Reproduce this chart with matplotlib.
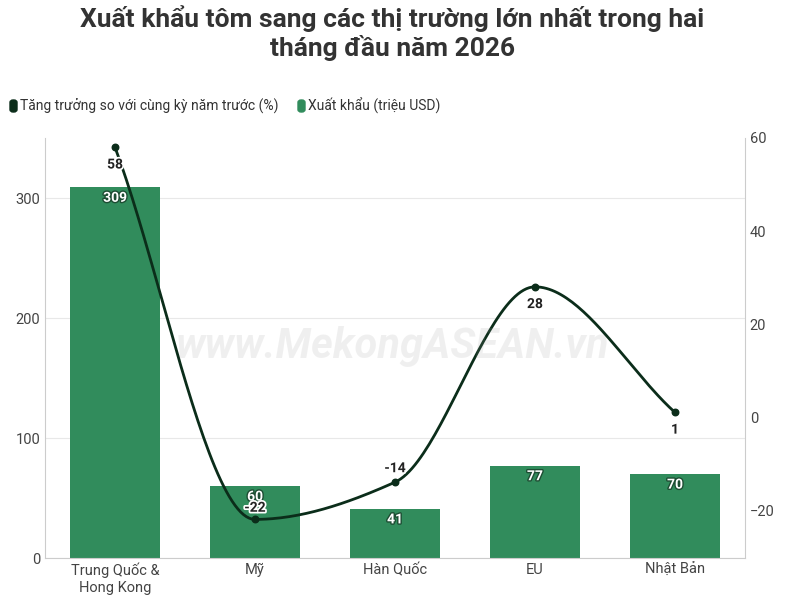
import matplotlib
matplotlib.use("Agg")
import matplotlib.pyplot as plt
import matplotlib.patheffects as pe
from matplotlib.patches import FancyBboxPatch
import numpy as np

categories = ["Trung Quốc &\nHong Kong", "Mỹ", "Hàn Quốc", "EU", "Nhật Bản"]
exports = [309, 60, 41, 77, 70]
export_labels = ["309", "60", "41", "77", "70"]
growth = [58, -22, -14, 28, 1]

plt.rcParams['font.family'] = ['Roboto', 'DejaVu Sans']
fig = plt.figure(figsize=(7.85, 6.03), dpi=100)
ax = fig.add_axes([45/785, 45/603, 700/785, 420/603])
ax2 = ax.twinx()

x = np.arange(len(categories))
bar_c = "#318c5c"
line_c = "#0b2d1a"
ax.bar(x, exports, width=0.64, color=bar_c, zorder=2)
ax.set_ylim(0, 350)
ax.set_xlim(-0.5, 4.5)
ax.set_yticks([0, 100, 200, 300])
ax.set_xticks(x)
ax.set_xticklabels(categories, fontsize=10.5, color="#444")
ax.tick_params(axis='y', labelsize=10.5, colors="#444", length=0)
ax.tick_params(axis='x', length=0)
ax.grid(axis='y', color="#e8e8e8", lw=0.8, zorder=0)
for s in list(ax.spines.values()) + list(ax2.spines.values()):
    s.set_visible(False)
ax.spines['left'].set_visible(True); ax.spines['left'].set_color("#ccc")
ax2.spines['right'].set_visible(True); ax2.spines['right'].set_color("#ccc")
ax.spines['bottom'].set_visible(True); ax.spines['bottom'].set_color("#ccc")

for xi, v, l in zip(x, exports, export_labels):
    t = ax.text(xi, v - 3, l, ha='center', va='top', fontsize=10, color='white', fontweight='bold', zorder=5)
    t.set_path_effects([pe.withStroke(linewidth=2, foreground="#1d4d33")])

# monotone cubic (Fritsch-Carlson) smooth path
xf = x.astype(float); yf = np.array(growth, dtype=float)
d = np.diff(yf) / np.diff(xf)
m = np.zeros_like(yf)
m[0], m[-1] = d[0], d[-1]
for i in range(1, len(yf)-1):
    m[i] = 0 if d[i-1]*d[i] <= 0 else 2/(1/d[i-1] + 1/d[i])
xs, ys = [], []
for i in range(len(xf)-1):
    h = xf[i+1]-xf[i]
    for t in np.linspace(0, 1, 50):
        h00 = 2*t**3-3*t**2+1; h10 = t**3-2*t**2+t; h01 = -2*t**3+3*t**2; h11 = t**3-t**2
        xs.append(xf[i]+t*h)
        ys.append(h00*yf[i]+h10*h*m[i]+h01*yf[i+1]+h11*h*m[i+1])
ax2.plot(xs, ys, color=line_c, lw=2, zorder=4)
ax2.scatter(x, growth, color=line_c, s=22, zorder=5)
ax2.set_ylim(-30.3, 60)
ax2.set_yticks([-20, 0, 20, 40, 60])
ax2.tick_params(axis='y', labelsize=10.5, colors="#444", length=0)
for xi, v in zip(x, growth):
    if xi == 1:
        off, va = 1.0, 'bottom'
    elif v >= 0:
        off, va = -2.2, 'top'
    else:
        off, va = 1.5, 'bottom'
    t = ax2.text(xi, v + off, str(v), ha='center', va=va, fontsize=10, color="#222", fontweight='bold', zorder=6)
    t.set_path_effects([pe.withStroke(linewidth=2.5, foreground="white")])

fig.text(0.5, 0.425, "www.MekongASEAN.vn", ha='center', va='center', fontsize=30,
         color="#999", alpha=0.15, style='italic', fontweight='bold', zorder=10)

fig.text(0.5, 0.945, "Xuất khẩu tôm sang các thị trường lớn nhất trong hai\ntháng đầu năm 2026",
         ha='center', va='center', fontsize=19, fontweight='bold', color="#333", linespacing=1.15)

for xx, lab, c in [(10, "Tăng trưởng so với cùng kỳ năm trước (%)", line_c), (298, "Xuất khẩu (triệu USD)", bar_c)]:
    fig.patches.append(FancyBboxPatch((xx/785, (603-112)/603), 7/785, 12/603, boxstyle="round,pad=0,rounding_size=0.004",
                                      transform=fig.transFigure, color=c))
    fig.text((xx+10)/785, (603-106)/603, lab, fontsize=10, color="#333", va='center')

fig.savefig("out.png", dpi=100, facecolor='white')
